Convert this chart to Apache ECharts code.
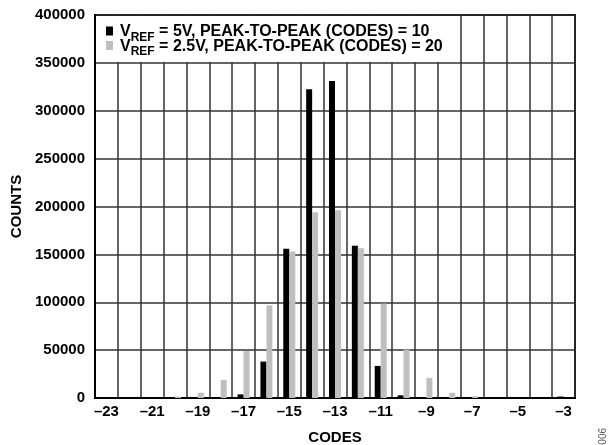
<!DOCTYPE html>
<html>
<head>
<meta charset="utf-8">
<script src="https://cdn.jsdelivr.net/npm/echarts@6/dist/echarts.min.js"></script>
<style>
html,body{margin:0;padding:0;background:#fff;}
#c{width:614px;height:445px;}
</style>
</head>
<body>
<div id="c"></div>
<script>
const codes = [-23,-22,-21,-20,-19,-18,-17,-16,-15,-14,-13,-12,-11,-10,-9,-8,-7,-6,-5,-4,-3];
const vref5 = [0,0,0,0,0,800,3800,38000,156000,322500,331000,159000,33500,2800,0,0,0,0,0,0,1500];
const vref25 = [0,0,0,1500,5500,19000,49000,96700,153000,194000,196000,156500,98500,50500,21000,5500,1800,0,0,0,0];
const yTicks = [0,50000,100000,150000,200000,250000,300000,350000,400000];
const seriesNames = ['5V', '2.5V'];
const legendTexts = {
  '5V': ' = 5V, PEAK-TO-PEAK (CODES) = 10',
  '2.5V': ' = 2.5V, PEAK-TO-PEAK (CODES) = 20'
};

const FONT = '"Liberation Sans", Arial, sans-serif';
const chart = echarts.init(document.getElementById('c'), null, {renderer: 'canvas'});
const catLabels = codes.map(v => (v < 0 ? '\u2013' + Math.abs(v) : String(v)));

chart.setOption({
  animation: false,
  backgroundColor: '#fff',
  textStyle: {fontFamily: FONT},
  grid: {left: 95, right: 39, top: 15, bottom: 47, outerBoundsMode: 'none', containLabel: false,
    show: true, borderColor: '#000', borderWidth: 2, backgroundColor: 'transparent'},
  legend: {
    orient: 'vertical',
    left: 98, top: 16,
    padding: [8, 15, 4, 8],
    itemGap: -5,
    itemWidth: 7, itemHeight: 9,
    icon: 'rect',
    backgroundColor: '#fff',
    data: seriesNames,
    formatter: function (name) {
      return '{m|V}{s|REF}{m|' + legendTexts[name] + '}';
    },
    textStyle: {
      fontFamily: FONT,
      padding: [0, 0, 0, 2],
      rich: {
        m: {fontFamily: FONT, fontWeight: 'bold', fontSize: 16, lineHeight: 14, verticalAlign: 'top', color: '#000'},
        s: {fontFamily: FONT, fontWeight: 'bold', fontSize: 12, lineHeight: 4, height: 1, verticalAlign: 'bottom', color: '#000'}
      }
    }
  },
  xAxis: {
    type: 'category',
    data: catLabels,
    boundaryGap: true,
    name: 'CODES',
    nameLocation: 'middle',
    nameGap: 32,
    nameTextStyle: {fontFamily: FONT, fontWeight: 'bold', fontSize: 15, color: '#000'},
    axisLine: {show: true, lineStyle: {color: '#000', width: 2}},
    axisTick: {show: false},
    axisLabel: {interval: 1, margin: 6, fontFamily: FONT, fontWeight: 'bold', fontSize: 15, color: '#000'},
    splitLine: {show: true, interval: 0, lineStyle: {color: '#333', width: 1.5}}
  },
  yAxis: {
    type: 'value',
    min: 0, max: 400000, interval: 50000,
    name: 'COUNTS',
    nameLocation: 'middle',
    nameGap: 66,
    nameRotate: 90,
    nameTextStyle: {fontFamily: FONT, fontWeight: 'bold', fontSize: 15, color: '#000'},
    axisLine: {show: true, lineStyle: {color: '#000', width: 2}},
    axisTick: {show: false},
    axisLabel: {margin: 10, fontFamily: FONT, fontWeight: 'bold', fontSize: 15, color: '#000',
      formatter: v => (yTicks.indexOf(v) >= 0 ? String(v) : '')},
    splitLine: {show: true, lineStyle: {color: '#333', width: 1.5}}
  },
  series: [
    {name: '5V', type: 'bar', data: vref5, barWidth: 6, barGap: '0%', itemStyle: {color: '#000'}},
    {name: '2.5V', type: 'bar', data: vref25, barWidth: 6, barGap: '0%', itemStyle: {color: '#bfbfbf'}}
  ],
  graphic: [{
    type: 'text', left: 598, top: 428, rotation: Math.PI / 2,
    style: {text: '006', fontFamily: FONT, fontSize: 10, fill: '#555'}
  }]
});
</script>
</body>
</html>
